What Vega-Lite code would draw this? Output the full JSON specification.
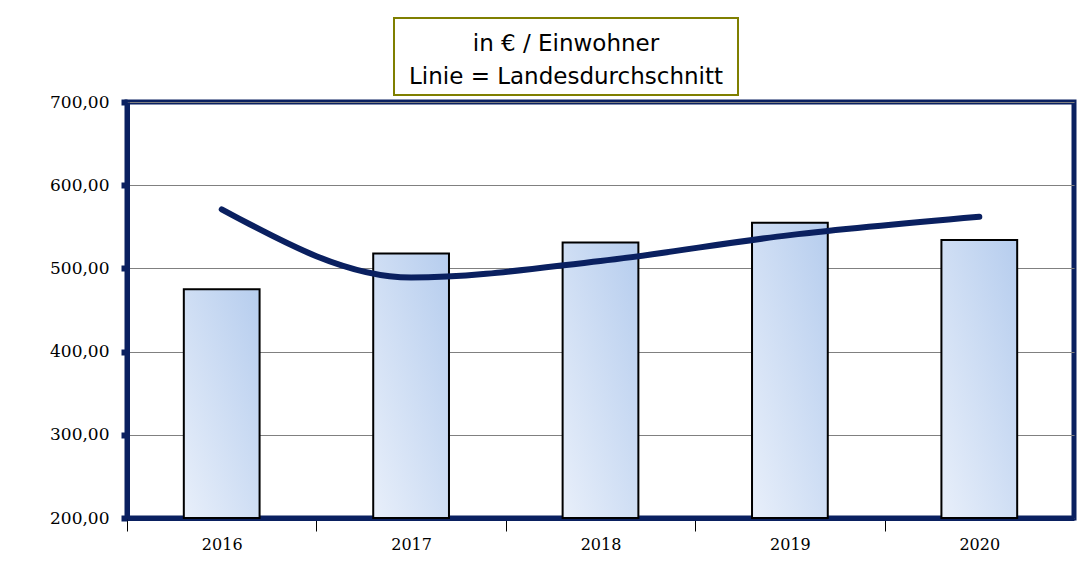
{
  "$schema": "https://vega.github.io/schema/vega-lite/v6.json",
  "background": "white",
  "padding": {"left": 47, "top": 17, "right": 5, "bottom": 5},
  "spacing": -6,
  "config": {
    "view": {"stroke": null},
    "font": "DejaVu Serif"
  },
  "vconcat": [
    {
      "spacing": 0,
      "hconcat": [
        {
          "width": 266,
          "height": 77,
          "data": {"values": [{"t": ""}]},
          "mark": {"type": "text"},
          "encoding": {"text": {"field": "t"}}
        },
        {
          "width": 344,
          "height": 77,
          "view": {"stroke": "#7f7f00", "strokeWidth": 2, "fill": "white"},
          "data": {"values": [
            {"line": 1, "text": "in € / Einwohner"},
            {"line": 2, "text": "Linie = Landesdurchschnitt"}
          ]},
          "mark": {"type": "text", "font": "DejaVu Sans", "fontSize": 23, "color": "black", "baseline": "middle", "dy": 4},
          "encoding": {
            "y": {"field": "line", "type": "ordinal", "axis": null, "scale": {"padding": 0.7}},
            "text": {"field": "text"}
          }
        }
      ]
    },
    {
      "width": 947,
      "height": 416,
      "view": {"stroke": "#0a2060", "strokeWidth": 5},
      "data": {"values": [
        {"year": "2016", "value": 475, "avg": 571},
        {"year": "2017", "value": 518, "avg": 489},
        {"year": "2018", "value": 531, "avg": 509},
        {"year": "2019", "value": 555, "avg": 540},
        {"year": "2020", "value": 534, "avg": 562}
      ]},
      "encoding": {
        "x": {
          "field": "year", "type": "nominal", "title": null,
          "scale": {"paddingInner": 0.6, "paddingOuter": 0.3},
          "axis": {
            "labelAngle": 0, "labelFont": "DejaVu Serif", "labelFontSize": 16, "labelColor": "black",
            "labelPadding": 5, "domainColor": "#0a2060", "domainWidth": 5,
            "tickColor": "black", "tickWidth": 1, "tickSize": 13, "tickOffset": -94.7, "labelOffset": 94.7
          }
        }
      },
      "layer": [
        {
          "mark": {
            "type": "bar", "stroke": "black", "strokeWidth": 2,
            "fill": {
              "gradient": "linear", "x1": 0, "y1": 1, "x2": 1, "y2": 0,
              "stops": [{"offset": 0, "color": "#e8effa"}, {"offset": 1, "color": "#b6cdee"}]
            }
          },
          "encoding": {
            "y": {
              "field": "value", "type": "quantitative", "title": null,
              "scale": {"domain": [200, 700], "zero": false, "nice": false},
              "axis": {
                "values": [200, 300, 400, 500, 600, 700],
                "labelExpr": "replace(format(datum.value, '.2f'), '.', ',')",
                "labelFont": "DejaVu Serif", "labelFontSize": 17, "labelColor": "black",
                "labelPadding": 12,
                "grid": true, "gridColor": "#808080", "gridWidth": 1,
                "domainColor": "#0a2060", "domainWidth": 5,
                "tickColor": "#0a2060", "tickWidth": 6, "tickSize": 6
              }
            },
            "y2": {"datum": 200}
          }
        },
        {
          "mark": {"type": "line", "color": "#0a2060", "strokeWidth": 6, "interpolate": "monotone", "strokeCap": "round"},
          "encoding": {
            "y": {"field": "avg", "type": "quantitative"}
          }
        }
      ]
    }
  ]
}
